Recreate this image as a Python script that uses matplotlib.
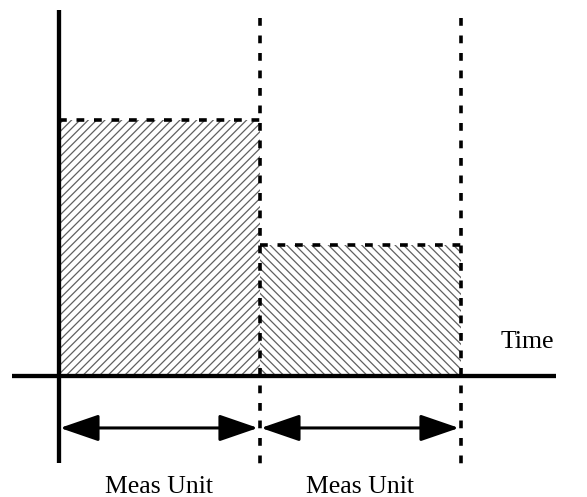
import matplotlib
matplotlib.use("Agg")
import matplotlib.pyplot as plt

plt.rcParams['font.family'] = ['Liberation Serif', 'DejaVu Serif']
plt.rcParams['hatch.linewidth'] = 0.9
plt.rcParams['lines.scale_dashes'] = False

# Data
unit_starts = [0, 1]
unit_widths = [1, 1]
heights = [1.0, 0.51]
hatches = ['////', '\\\\\\\\']
unit_labels = ["Meas Unit", "Meas Unit"]
axis_label = "Time"

fig = plt.figure(figsize=(5.87, 4.97), dpi=100)
ax = fig.add_axes([0, 0, 1, 1])
ax.set_xlim(-0.2935, 2.627)
ax.set_ylim(-0.4727, 1.46875)
ax.axis('off')

dash = (0, (5.6, 7.0))

# hatched bars
for x0, w, h, ht in zip(unit_starts, unit_widths, heights, hatches):
    ax.bar(x0, h, width=w, align='edge', facecolor='white', edgecolor='#606060',
           linewidth=0, hatch=ht, zorder=1)
    ax.plot([x0, x0 + w], [h, h], color='black', lw=2.6, linestyle=dash,
            dash_capstyle='butt', zorder=3)

# vertical dashed boundaries
ends = [s + w for s, w in zip(unit_starts, unit_widths)]
for xe in ends:
    ax.plot([xe, xe], [1.398, -0.375], color='black', lw=2.6, linestyle=dash,
            dash_capstyle='butt', zorder=3)

# axes
ax.plot([0, 0], [-0.34, 1.43], color='black', lw=3.1, solid_capstyle='butt', zorder=4)
ax.plot([-0.234, 2.473], [0, 0], color='black', lw=3.1, solid_capstyle='butt', zorder=4)

# arrows and labels
for x0, w, lab in zip(unit_starts, unit_widths, unit_labels):
    ax.annotate('', xy=(x0 + w - 0.01, -0.203), xytext=(x0 + 0.005, -0.203),
                arrowprops=dict(arrowstyle='<|-|>,head_length=1.6,head_width=0.55',
                                mutation_scale=15, lw=2.2, color='black',
                                shrinkA=0, shrinkB=0), zorder=5)
    ax.text(x0 + w / 2, -0.434, lab, ha='center', va='center', fontsize=18.5)

ax.text(2.328, 0.133, axis_label, ha='center', va='center', fontsize=18.5)

fig.savefig('out.png', dpi=100)
